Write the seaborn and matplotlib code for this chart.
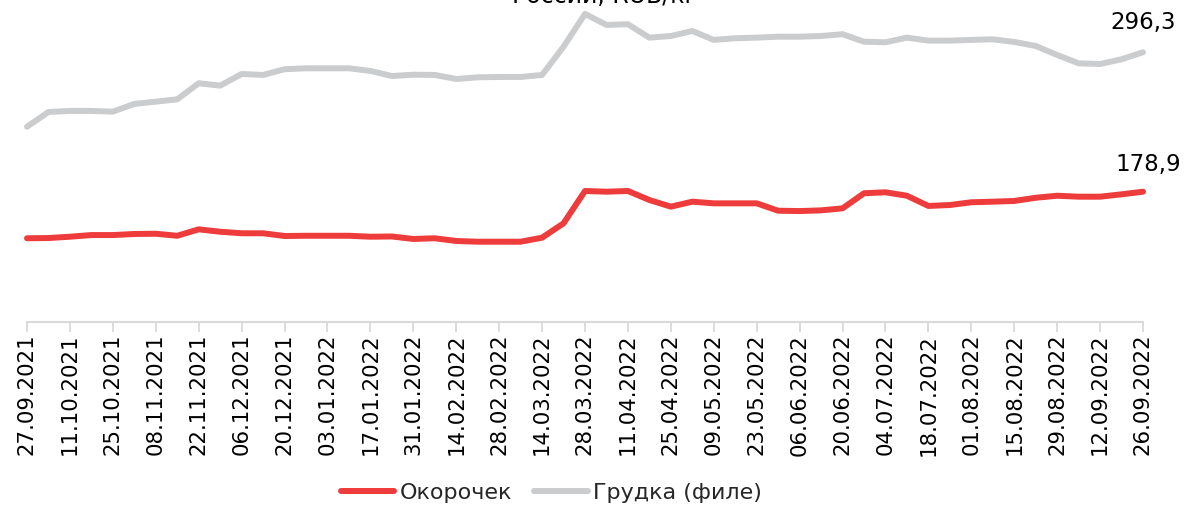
import matplotlib
matplotlib.use("Agg")
import matplotlib.pyplot as plt
from matplotlib.lines import Line2D
import seaborn as sns
import pandas as pd

# ---- data ----
tick_labels = ["27.09.2021", "11.10.2021", "25.10.2021", "08.11.2021", "22.11.2021",
               "06.12.2021", "20.12.2021", "03.01.2022", "17.01.2022", "31.01.2022",
               "14.02.2022", "28.02.2022", "14.03.2022", "28.03.2022", "11.04.2022",
               "25.04.2022", "09.05.2022", "23.05.2022", "06.06.2022", "20.06.2022",
               "04.07.2022", "18.07.2022", "01.08.2022", "15.08.2022", "29.08.2022",
               "12.09.2022", "26.09.2022"]

okorochek = [139.7, 139.9, 141.0, 142.4, 142.4, 143.3, 143.5, 141.8, 147.2, 145.2,
             143.9, 143.9, 141.6, 141.8, 141.8, 141.8, 141.0, 141.2, 139.1, 139.7,
             137.4, 136.8, 136.8, 136.8, 140.2, 152.3, 179.5, 178.9, 179.5, 171.9,
             166.3, 170.5, 169.1, 169.1, 169.1, 162.9, 162.6, 163.2, 164.9, 177.6,
             178.4, 175.5, 166.9, 167.7, 170.0, 170.5, 171.1, 173.8, 175.5, 174.7,
             174.7, 176.7, 178.9]

grudka = [233.6, 246.0, 246.9, 246.9, 246.3, 252.8, 254.7, 256.7, 270.2, 268.2,
          278.0, 277.2, 282.0, 282.8, 282.8, 282.8, 280.6, 276.3, 277.4, 277.2,
          273.8, 275.2, 275.5, 275.5, 277.2, 301.0, 328.6, 319.3, 319.9, 308.6,
          310.0, 314.2, 306.7, 308.1, 308.6, 309.4, 309.4, 310.0, 311.5, 305.2,
          304.7, 308.6, 306.1, 306.1, 306.7, 307.2, 305.0, 301.6, 294.0, 287.0,
          286.4, 290.4, 296.3]

series_names = ["Окорочек", "Грудка (филе)"]
colors = ["#EE3B3B", "#CBCCCE"]
title_text = "России, RUB/кг"

# ---- figure ----
sns.set_theme(style="white")
plt.rcParams['font.family'] = ['DejaVu Sans']

fig = plt.figure(figsize=(11.86, 5.08), dpi=100)
ax = fig.add_axes([27 / 1186, (508 - 322) / 508, 1116 / 1186, 322 / 508])

n = len(okorochek)
df = pd.DataFrame({
    "week": list(range(n)) * 2,
    "value": okorochek + grudka,
    "series": [series_names[0]] * n + [series_names[1]] * n,
})

sns.lineplot(data=df, x="week", y="value", hue="series",
             palette=dict(zip(series_names, colors)), linewidth=4.3,
             ax=ax, legend=False, solid_capstyle="round", solid_joinstyle="round")

ax.set_xlim(0, n - 1)
ax.set_ylim(69.2, 340.3)
ax.set_xlabel("")
ax.set_ylabel("")
ax.set_yticks([])

ax.set_xticks(list(range(0, n, 2)))
ax.set_xticklabels(tick_labels, rotation=90, fontsize=15.3, color="#000000")
ax.tick_params(axis="x", direction="out", length=7, width=1.3, color="#D9D9D9",
               pad=1.5, bottom=True)

for s in ["top", "right", "left"]:
    ax.spines[s].set_visible(False)
ax.spines["bottom"].set_color("#D9D9D9")
ax.spines["bottom"].set_linewidth(1.5)
for line in ax.lines:
    line.set_clip_on(False)

# end-value labels
ax.annotate("296,3", xy=(n - 1, grudka[-1]), xytext=(0, 13), textcoords="offset points",
            ha="center", va="bottom", fontsize=16.5, color="#000000")
ax.annotate("178,9", xy=(n - 1, okorochek[-1]), xytext=(4, 11), textcoords="offset points",
            ha="center", va="bottom", fontsize=16.5, color="#000000")

# title (cut off at top as in reference)
fig.text(0.51, 1 - 3 / 508, title_text, ha="center", va="baseline",
         fontsize=17, color="#000000")

# legend
handles = [Line2D([0], [0], color=c, lw=4.3, solid_capstyle="round") for c in colors]
fig.legend(handles, series_names, loc="center", bbox_to_anchor=(0.465, 1 - 493 / 508),
           ncol=2, frameon=False, fontsize=16, handlelength=2.4, handletextpad=0.25,
           columnspacing=1.0)

fig.savefig("out.png", dpi=100)
